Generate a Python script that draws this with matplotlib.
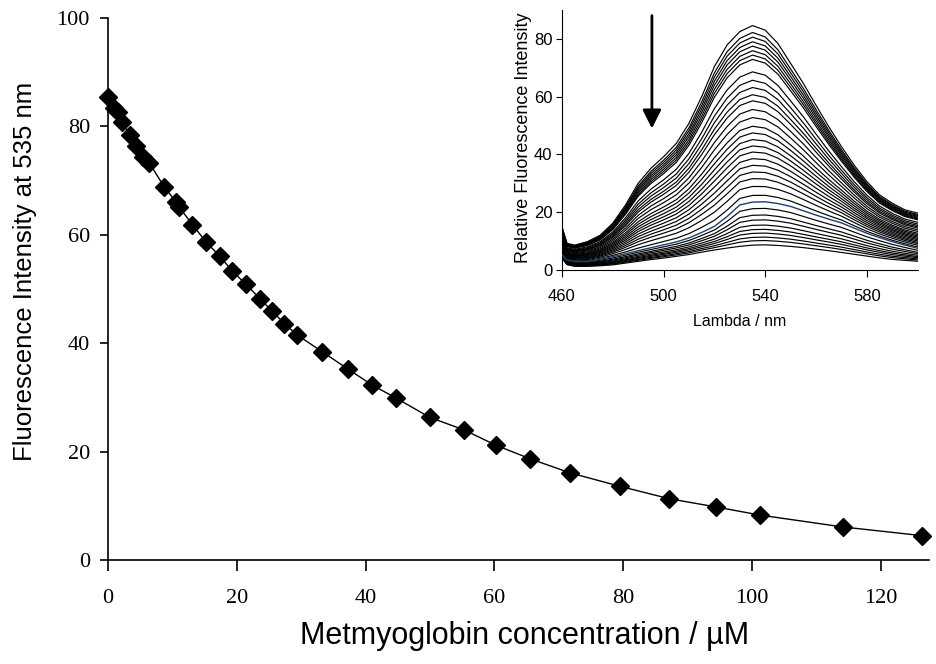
import numpy as np
import matplotlib
matplotlib.use('Agg')
import matplotlib.pyplot as plt

## Main titration data
conc = [0, 1.0, 1.5, 2.1, 3.4, 4.3, 5.5, 6.4, 8.7, 10.6, 11.0, 13.1, 15.2, 17.4,
        19.3, 21.4, 23.6, 25.5, 27.4, 29.4, 33.3, 37.3, 41.0, 44.7, 50.0, 55.3,
        60.2, 65.5, 71.7, 79.5, 87.2, 94.4, 101.2, 114.1, 126.4]
intensity = [85.4, 83.4, 82.6, 80.9, 78.4, 76.4, 74.3, 73.3, 68.9, 66.0, 65.2,
             61.9, 58.7, 56.0, 53.3, 50.9, 48.2, 45.9, 43.6, 41.5, 38.4, 35.2,
             32.3, 29.9, 26.3, 24.0, 21.2, 18.7, 16.1, 13.6, 11.3, 9.8, 8.3,
             6.1, 4.5]

## Inset spectra: wavelengths and three traced curves (top, blue, bottom)
wl = [460, 462, 465, 470, 475, 480, 485, 490, 495, 500, 505, 510, 515, 520,
      525, 530, 535, 540, 545, 550, 555, 560, 565, 570, 575, 580, 585, 590,
      595, 600]
spec_top = [15.0, 9.2, 8.6, 9.8, 12.0, 16.2, 22.5, 30.0, 35.2, 39.2, 43.8,
            50.8, 60.0, 70.4, 77.9, 82.5, 84.6, 83.0, 78.4, 71.5, 64.6, 57.0,
            49.6, 42.7, 36.3, 30.6, 26.0, 23.1, 20.8, 19.7]
spec_blue = [5.2, 3.4, 3.0, 3.0, 3.7, 4.6, 5.6, 6.7, 7.7, 8.7, 9.7, 11.1,
             13.0, 15.1, 18.5, 22.5, 23.5, 23.6, 23.0, 22.0, 20.5, 19.0, 17.6,
             16.3, 14.5, 12.7, 11.2, 9.8, 8.6, 7.5]
spec_bottom = [4.0, 1.8, 1.2, 1.2, 1.4, 1.7, 2.3, 2.9, 3.5, 4.0, 4.6, 5.2,
               6.0, 6.7, 7.3, 7.8, 8.2, 8.3, 8.1, 7.8, 7.4, 6.9, 6.4, 5.8,
               5.2, 4.6, 4.0, 3.5, 3.2, 2.9]
## peak heights (at 535 nm) of every trace
peaks = [84.6, 82.2, 80.6, 79.0, 77.5, 75.9, 74.4, 72.9, 68.6, 65.7, 63.2,
         60.7, 58.6, 55.6, 52.8, 49.8, 47.5, 45.2, 43.0, 40.9, 38.6, 36.3,
         34.0, 31.7, 29.0, 25.9, 23.6, 21.3, 19.0, 17.3, 15.5, 14.0, 12.7,
         11.3, 10.1, 8.6]
blue_peak = 23.6

fig = plt.figure(figsize=(9.36, 6.64), dpi=100)

## Main plot
ax = fig.add_axes([0.1154, 0.1566, 0.8771, 0.8163])
ax.plot(conc, intensity, color='black', lw=1.0, marker='D', markersize=9,
        markerfacecolor='black', markeredgecolor='black', clip_on=False)
ax.set_xlim(0, 127.5)
ax.set_ylim(0, 100)
ax.set_xticks(np.arange(0, 121, 20))
ax.set_yticks(np.arange(0, 101, 20))
for s in ['top', 'right']:
    ax.spines[s].set_visible(False)
for s in ['left', 'bottom']:
    ax.spines[s].set_linewidth(1.2)
ax.tick_params(axis='x', direction='out', length=8, width=1.2, pad=13)
ax.tick_params(axis='y', direction='out', length=6, width=1.2, pad=7)
for lab in ax.get_xticklabels() + ax.get_yticklabels():
    lab.set_fontfamily('Liberation Serif')
    lab.set_fontsize(16)
ax.set_xlabel('Metmyoglobin concentration / µM', fontsize=22,
              family='Liberation Sans')
ax.xaxis.set_label_coords(0.507, -0.112)
fig.text(25 / 936, 1 - 271 / 664, 'Fluorescence Intensity at 535 nm',
         rotation=90, ha='center', va='center', fontsize=18.5,
         family='Liberation Sans')

## Inset with the emission spectra
ins = fig.add_axes([0.6004, 0.5934, 0.38, 0.3916])
anchor_peaks = [spec_bottom[16], blue_peak, spec_top[16]]
for p in peaks:
    trace = [np.interp(p, anchor_peaks, [b, m, t])
             for b, m, t in zip(spec_bottom, spec_blue, spec_top)]
    if p == blue_peak:
        ins.plot(wl, trace, color='#1a3f6f', lw=1.0, zorder=3)
    else:
        ins.plot(wl, trace, color='black', lw=0.85)
ins.set_xlim(460, 600)
ins.set_ylim(0, 90)
ins.set_xticks([460, 500, 540, 580])
ins.set_yticks([0, 20, 40, 60, 80])
for s in ['top', 'right']:
    ins.spines[s].set_visible(False)
ins.tick_params(axis='x', direction='out', length=5, pad=9, labelsize=12)
ins.tick_params(axis='y', direction='out', length=4, pad=3, labelsize=12)
for lab in ins.get_xticklabels() + ins.get_yticklabels():
    lab.set_fontfamily('Liberation Sans')
ins.set_xlabel('Lambda / nm', fontsize=11.5, family='Liberation Sans')
ins.xaxis.set_label_coords(0.5, -0.17)
fig.text(523 / 936, 1 - 138 / 664, 'Relative Fluorescence Intensity',
         rotation=90, ha='center', va='center', fontsize=13,
         family='Liberation Sans')
ins.annotate('', xy=(495.4, 48), xytext=(495.4, 89),
             arrowprops=dict(arrowstyle='-|>', color='black', lw=2,
                             mutation_scale=28))

fig.savefig('out.png', dpi=100)
